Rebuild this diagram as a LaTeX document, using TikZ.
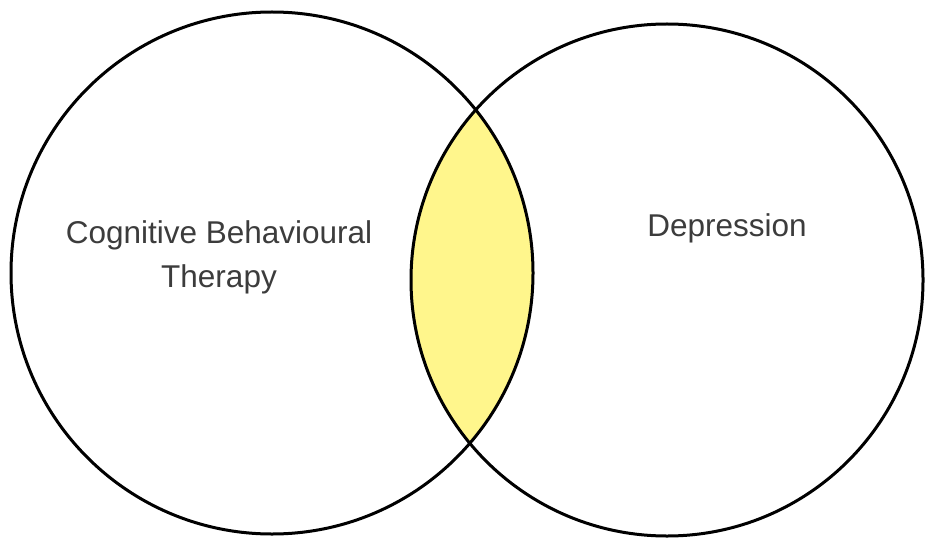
\documentclass[tikz,border=0pt]{standalone}
\usepackage{fontspec}
\setmainfont{Liberation Sans}
\definecolor{lensyellow}{RGB}{255,246,140}
\definecolor{labelgrey}{RGB}{60,60,60}
\begin{document}
\begin{tikzpicture}[x=1pt,y=-1pt,
  setcircle/.style={circle,draw=black,line width=3pt,inner sep=0pt},
  label/.style={text=labelgrey,font=\fontsize{31.5}{44}\selectfont,align=center,inner sep=0pt}]
\useasboundingbox (0,0) rectangle (925,540);
\fill[white] (0,0) rectangle (925,540);
\coordinate (cl) at (272,273);
\coordinate (cr) at (667,280);
\begin{scope}
  \clip (cl) circle[radius=261pt];
  \fill[lensyellow] (cr) circle[radius=256pt];
\end{scope}
\node[setcircle,minimum size=522pt] (cbt) at (cl) {};
\node[setcircle,minimum size=512pt] (dep) at (cr) {};
\node[label] (cbtlabel) at (219,257) {Cognitive Behavioural\\Therapy};
\node[label,anchor=base] (deplabel) at (727,236) {Depression};
\end{tikzpicture}
\end{document}
